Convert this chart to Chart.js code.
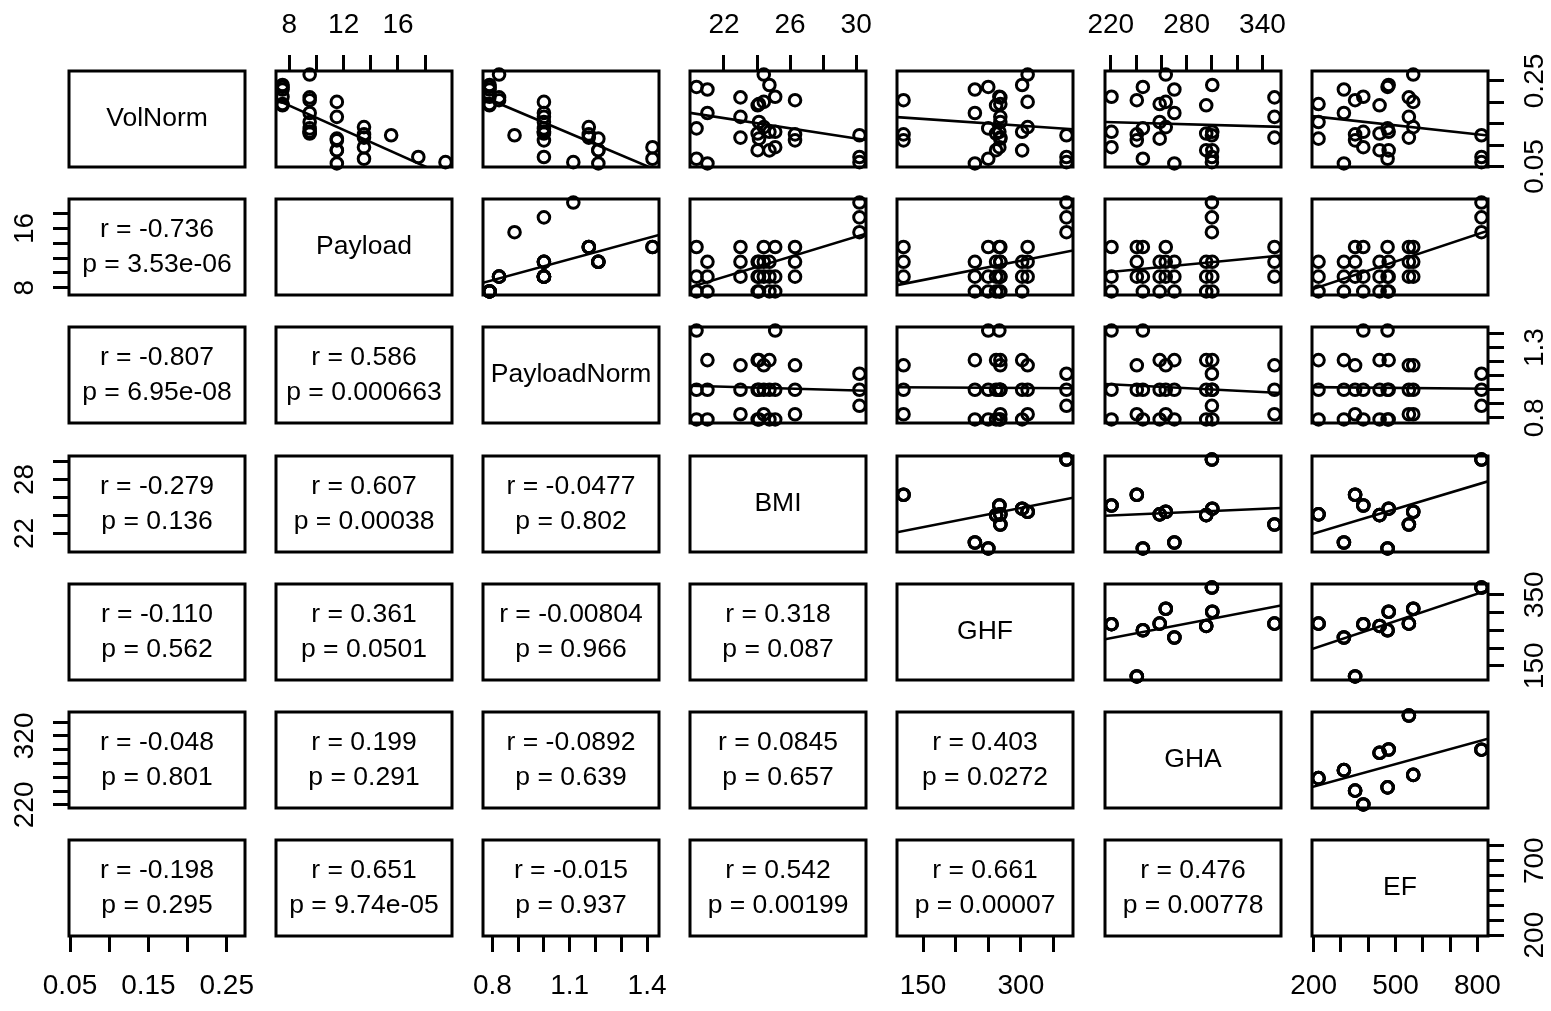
<!DOCTYPE html>
<html>
<head>
<meta charset="utf-8">
<title>Scatterplot matrix</title>
<script src="https://cdn.jsdelivr.net/npm/chart.js@4.4.1/dist/chart.umd.min.js"></script>
<style>
  html, body { margin: 0; padding: 0; background: #fff; overflow: hidden; width: 1551px; height: 1011px; }
  #grid { position: relative; width: 1551px; height: 1011px; }
  #grid canvas { position: absolute; }
</style>
</head>
<body>
<div id="grid"></div>
<script>
// ---- data -------------------------------------------------------------
const varNames = ['VolNorm', 'Payload', 'PayloadNorm', 'BMI', 'GHF', 'GHA', 'EF'];

// subject-level measures (10 subjects)
const bmi = [25.1, 26.3, 20.34, 24.12, 24.41, 21.0, 24.04, 24.75, 30.2, 23.0];
const ghf = [267, 120, 250, 268.5, 310.4, 229.5, 262, 302, 370, 268.5];
const gha = [220.6, 240.6, 245.4, 258.7, 263.5, 270.3, 295.5, 300.3, 300, 349.5];
const ef  = [382, 352, 471, 218, 565, 311, 441.7, 475, 815, 549];

// three trials per subject
const subjectOf   = [0,0,0, 1,1,1, 2,2,2, 3,3,3, 4,4,4, 5,5,5, 6,6,6, 7,7,7, 8,8,8, 9,9,9];
const payload     = [7.5,9.5,13.5, 9.5,11.5,13.5, 7.5,9.5,13.5, 7.5,9.5,11.5, 9.5,11.5,13.5,
                     7.5,9.5,11.5, 7.5,9.5,11.5, 7.5,9.5,11.5, 15.5,17.5,19.5, 9.5,11.5,13.5];
const payloadNorm = [0.789,1,1.421, 0.826,1,1.174, 0.789,1,1.421, 0.789,1,1.211, 0.826,1,1.174,
                     0.789,1,1.211, 0.789,1,1.211, 0.789,1,1.211, 0.886,1,1.114, 0.826,1,1.174];
const volNorm     = [0.213,0.131,0.095, 0.205,0.111,0.125, 0.236,0.139,0.068, 0.196,0.154,0.115,
                     0.265,0.201,0.142, 0.230,0.175,0.057, 0.193,0.127,0.088, 0.2405,0.131,0.0876,
                     0.123,0.072,0.060, 0.2115,0.166,0.1175];

// axis tick positions per variable
const ticksVolNorm     = [0.05, 0.10, 0.15, 0.20, 0.25];
const ticksPayload     = [8, 10, 12, 14, 16, 18];
const ticksPayloadNorm = [0.8, 0.9, 1.0, 1.1, 1.2, 1.3, 1.4];
const ticksBMI         = [22, 24, 26, 28, 30];
const ticksGHF         = [150, 200, 250, 300, 350];
const ticksGHA         = [220, 240, 260, 280, 300, 320, 340];
const ticksEF          = [200, 300, 400, 500, 600, 700, 800];

// labelled ticks on horizontal (top/bottom) and vertical (left/right) axes
const xTickLabels = [['0.05','0.15','0.25'], ['8','12','16'], ['0.8','1.1','1.4'], ['22','26','30'],
                     ['150','300'], ['220','280','340'], ['200','500','800']];
const yTickLabels = [['0.05','0.25'], ['8','16'], ['0.8','1.3'], ['22','28'],
                     ['150','350'], ['220','320'], ['200','700']];

// correlation results for the lower panels (row by row)
const rText = ['-0.736',
               '-0.807', '0.586',
               '-0.279', '0.607', '-0.0477',
               '-0.110', '0.361', '-0.00804', '0.318',
               '-0.048', '0.199', '-0.0892', '0.0845', '0.403',
               '-0.198', '0.651', '-0.015', '0.542', '0.661', '0.476'];
const pText = ['3.53e-06',
               '6.95e-08', '0.000663',
               '0.136', '0.00038', '0.802',
               '0.562', '0.0501', '0.966', '0.087',
               '0.801', '0.291', '0.639', '0.657', '0.0272',
               '0.295', '9.74e-05', '0.937', '0.00199', '0.00007', '0.00778'];

// ---- layout -----------------------------------------------------------
const M = 70;                       // canvas margin around each panel (axis room)
const PANEL_W = 176, PANEL_H = 96;
const colLeft = [69, 276, 483, 690, 897, 1105, 1312];
const rowTop  = [71, 199, 327, 456, 584, 712, 840];
const TICK_LEN = 16;
const FONT = "'Liberation Sans', Arial, Helvetica, sans-serif";
const TICK_FONT_PX = 28;
const TEXT_FONT_PX = 26.5;
const TEXT_LINE_GAP = 35;
const LABEL_GAP = { top: 46, bottom: 50, left: 44, right: 47 };  // panel edge -> label centre

// ---- helpers ----------------------------------------------------------
const columns = [
  volNorm, payload, payloadNorm,
  subjectOf.map(s => bmi[s]), subjectOf.map(s => ghf[s]),
  subjectOf.map(s => gha[s]), subjectOf.map(s => ef[s])
];
const tickValues = [ticksVolNorm, ticksPayload, ticksPayloadNorm, ticksBMI, ticksGHF, ticksGHA, ticksEF];

function usrRange(v) {            // data range widened by 4% on each side
  const lo = Math.min(...v), hi = Math.max(...v), d = hi - lo;
  return [lo - 0.04 * d, hi + 0.04 * d];
}
function lsFit(xs, ys) {
  const n = xs.length;
  const mx = xs.reduce((s, v) => s + v, 0) / n, my = ys.reduce((s, v) => s + v, 0) / n;
  let sxy = 0, sxx = 0;
  for (let i = 0; i < n; i++) { sxy += (xs[i] - mx) * (ys[i] - my); sxx += (xs[i] - mx) ** 2; }
  const b = sxy / sxx;
  return [my - b * mx, b];
}
const mctx = document.createElement('canvas').getContext('2d');
mctx.font = TICK_FONT_PX + 'px ' + FONT;
function widest(labels) { return Math.max(...labels.map(s => mctx.measureText(s).width)); }

function scaleFor(v, axis, side) {
  const [lo, hi] = usrRange(columns[v]);
  const vals = tickValues[v];
  const labels = axis === 'x' ? xTickLabels[v] : yTickLabels[v];
  const shown = side !== null;
  const opts = {
    type: 'linear', bounds: 'data', min: lo, max: hi, display: shown,
    position: side || (axis === 'x' ? 'bottom' : 'left'),
    afterBuildTicks: s => { s.ticks = vals.map(value => ({ value })); },
    border: { display: false },
    grid: { drawOnChartArea: false, drawTicks: true, tickLength: TICK_LEN, lineWidth: 3, color: '#000' },
    ticks: {
      autoSkip: false, color: '#000', font: { family: FONT, size: TICK_FONT_PX },
      callback: value => {
        const s = labels.find(t => Math.abs(Number(t) - value) < 1e-9);
        return s === undefined ? '' : s;
      }
    }
  };
  if (shown) {
    if (axis === 'x') {
      opts.ticks.padding = LABEL_GAP[side] - TICK_LEN - TICK_FONT_PX * 0.6;
      opts.ticks.minRotation = 0; opts.ticks.maxRotation = 0;
      opts.afterFit = s => { s.height = M; };
    } else {
      opts.ticks.padding = LABEL_GAP[side] - TICK_LEN - widest(labels) / 2;
      opts.ticks.minRotation = 90; opts.ticks.maxRotation = 90;
      opts.ticks.crossAlign = 'center';
      opts.afterFit = s => { s.width = M; };
    }
  }
  return opts;
}

function framePlugin(lines) {
  return {
    id: 'panelFrame',
    afterDatasetsDraw(chart) {
      const { ctx, chartArea: a } = chart;
      ctx.save();
      ctx.fillStyle = '#000';
      ctx.font = TEXT_FONT_PX + 'px ' + FONT;
      ctx.textAlign = 'center';
      ctx.textBaseline = 'middle';
      const cx = (a.left + a.right) / 2, cy = (a.top + a.bottom) / 2;
      lines.forEach((t, i) => ctx.fillText(t, cx, cy + (i - (lines.length - 1) / 2) * TEXT_LINE_GAP));
      ctx.lineWidth = 3;
      ctx.strokeStyle = '#000';
      ctx.strokeRect(a.left, a.top, a.width, a.height);
      ctx.restore();
    }
  };
}

// ---- build the 7 x 7 matrix -------------------------------------------
const grid = document.getElementById('grid');
for (let r = 0; r < 7; r++) {
  for (let c = 0; c < 7; c++) {
    const cv = document.createElement('canvas');
    cv.width = PANEL_W + 2 * M;
    cv.height = PANEL_H + 2 * M;
    cv.style.left = (colLeft[c] - M) + 'px';
    cv.style.top = (rowTop[r] - M) + 'px';
    grid.appendChild(cv);

    const top = r === 0 && c % 2 === 1;
    const bottom = r === 6 && c % 2 === 0;
    const left = c === 0 && r % 2 === 1;
    const right = c === 6 && r % 2 === 0;

    const datasets = [];
    let lines = [];
    if (r < c) {
      const xs = columns[c], ys = columns[r];
      datasets.push({
        type: 'scatter',
        data: xs.map((x, i) => ({ x, y: ys[i] })),
        pointStyle: 'circle', pointRadius: 5.8, pointBorderWidth: 3,
        pointBorderColor: '#000', pointBackgroundColor: 'rgba(0,0,0,0)',
        borderColor: '#000', backgroundColor: 'rgba(0,0,0,0)',
        showLine: false, clip: false
      });
      const [a, b] = lsFit(xs, ys);
      const [x0, x1] = usrRange(xs);
      datasets.push({
        type: 'line',
        data: [{ x: x0, y: a + b * x0 }, { x: x1, y: a + b * x1 }],
        borderColor: '#000', borderWidth: 2.6, pointRadius: 0, fill: false, clip: 0
      });
    } else if (r === c) {
      lines = [varNames[r]];
    } else {
      const k = r * (r - 1) / 2 + c;
      lines = ['r = ' + rText[k], 'p = ' + pText[k]];
    }

    new Chart(cv, {
      type: 'scatter',
      data: { datasets },
      options: {
        animation: false, responsive: false, devicePixelRatio: 1, events: [],
        layout: { padding: { left: left ? 0 : M, right: right ? 0 : M, top: top ? 0 : M, bottom: bottom ? 0 : M } },
        plugins: { legend: { display: false }, tooltip: { enabled: false } },
        scales: {
          x: scaleFor(c, 'x', top ? 'top' : (bottom ? 'bottom' : null)),
          y: scaleFor(r, 'y', left ? 'left' : (right ? 'right' : null))
        }
      },
      plugins: [framePlugin(lines)]
    });
  }
}
</script>
</body>
</html>
